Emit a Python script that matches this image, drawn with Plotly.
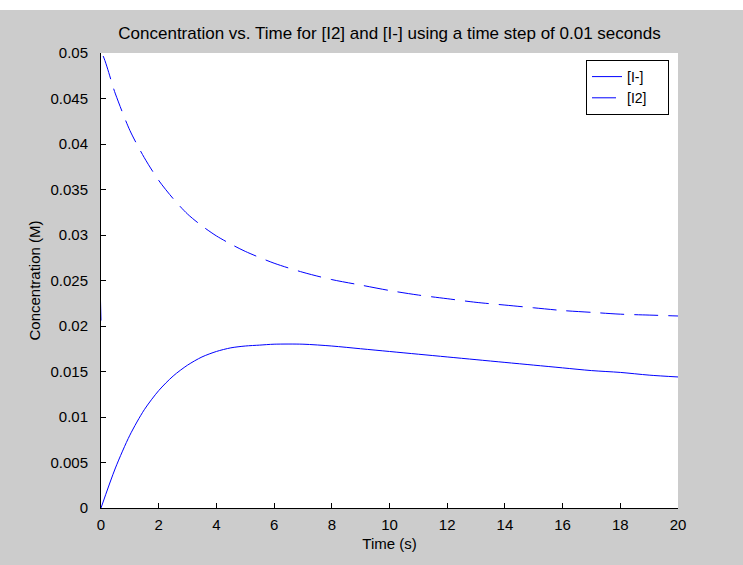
import plotly.graph_objects as go

# ---- data ----
time_i = [0, 0.5, 1, 1.5, 2, 2.5, 3, 3.5, 4, 4.5, 5, 5.5, 6, 7, 8, 9, 10, 11, 12, 13, 14, 15, 16, 17, 18, 19, 20]
conc_i = [0, 0.0044, 0.0080, 0.0108, 0.0129, 0.0145, 0.0157, 0.0166, 0.0172, 0.0176, 0.0178, 0.0179, 0.0180,
          0.0180, 0.0178, 0.0175, 0.0172, 0.0169, 0.0166, 0.0163, 0.0160, 0.0157, 0.0154, 0.0151, 0.0149, 0.0146, 0.0144]

time_i2 = [0, 0, 0.5, 1, 1.5, 2, 2.5, 3, 3.5, 4, 4.5, 5, 6, 7, 8, 9, 10, 11, 12, 13, 14, 15, 16, 17, 18, 19, 20]
conc_i2 = [0.0206, 0.05, 0.0455, 0.0415, 0.0385, 0.0360, 0.0340, 0.0323, 0.0310, 0.0299, 0.0290, 0.0282, 0.0269,
           0.0259, 0.0251, 0.0245, 0.0239, 0.0234, 0.0230, 0.0226, 0.0223, 0.0220, 0.0217, 0.0215, 0.0213, 0.0212, 0.0211]

x_ticks = [0, 2, 4, 6, 8, 10, 12, 14, 16, 18, 20]
y_ticks = [0, 0.005, 0.01, 0.015, 0.02, 0.025, 0.03, 0.035, 0.04, 0.045, 0.05]
y_tick_text = ["0", "0.005", "0.01", "0.015", "0.02", "0.025", "0.03", "0.035", "0.04", "0.045", "0.05"]

series_names = ["[I-]", "[I2]"]
title_text = "Concentration vs. Time for [I2] and [I-] using a time step of 0.01 seconds"

FONT = "Liberation Sans, Arial, sans-serif"
PAD = "\u00a0\u00a0\u00a0\u00a0"

fig = go.Figure()
fig.add_trace(go.Scatter(x=time_i, y=conc_i, mode="lines", name=series_names[0] + PAD,
                         line=dict(color="#0000ff", width=1, shape="spline", smoothing=0.8)))
fig.add_trace(go.Scatter(x=time_i2, y=conc_i2, mode="lines", name=series_names[1] + PAD,
                         line=dict(color="#0000ff", width=1, dash="24px,10px", shape="spline", smoothing=0.8)))

W, H = 743, 565
L, R, T, B = 101, 65, 53, 57
plot_h = H - T - B

fig.update_layout(
    width=W, height=H,
    margin=dict(l=L, r=R, t=T, b=B),
    paper_bgcolor="#cccccc",
    plot_bgcolor="#ffffff",
    font=dict(family=FONT, size=14, color="#000000"),
    title=dict(text=title_text, x=0.5, xref="paper", y=1 - 33 / H, yref="container",
               xanchor="center", yanchor="middle", font=dict(size=17, family=FONT)),
    showlegend=True,
    legend=dict(x=(669 - L) / (W - L - R), y=(H - B - 60) / plot_h, xanchor="right", yanchor="top",
                bgcolor="#ffffff", bordercolor="#000000", borderwidth=1,
                font=dict(size=14, family=FONT), itemwidth=30, tracegroupgap=0),
    shapes=[dict(type="rect", xref="paper", yref="paper", x0=-0.2, x1=1.2,
                 y0=1 + (T - 10) / plot_h, y1=1 + (T + 2) / plot_h,
                 fillcolor="#ffffff", line=dict(width=0), layer="below")],
)

fig.update_xaxes(range=[0, 20], tickvals=x_ticks, ticks="inside", ticklen=5, tickcolor="#000000",
                 showline=True, linecolor="#000000", linewidth=1, showgrid=False, zeroline=False,
                 tickfont=dict(size=15), ticklabelstandoff=3, layer="below traces",
                 title=dict(text="Time (s)", font=dict(size=15), standoff=6))
fig.update_yaxes(range=[0, 0.05], tickvals=y_ticks, ticktext=y_tick_text, ticks="inside", ticklen=5,
                 tickcolor="#000000", showline=True, linecolor="#000000", linewidth=1, showgrid=False,
                 zeroline=False, tickfont=dict(size=15), ticklabelstandoff=9, layer="below traces",
                 title=dict(text="Concentration (M)", font=dict(size=15), standoff=6))

fig.write_html("out.html")
